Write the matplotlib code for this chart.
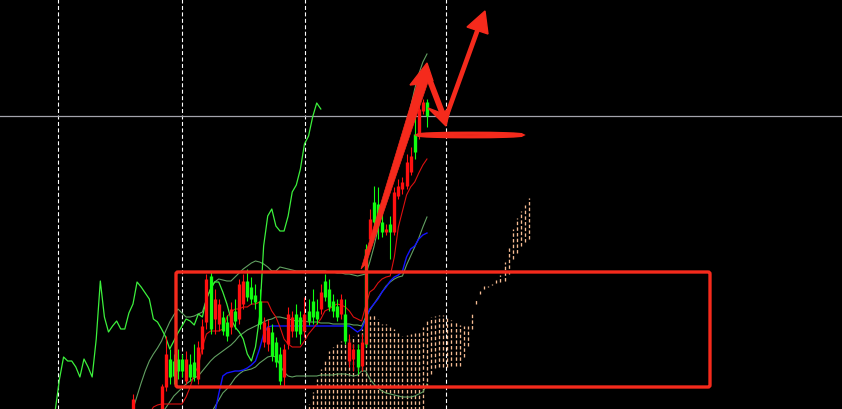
import numpy as np
import matplotlib
matplotlib.use("Agg")
import matplotlib.pyplot as plt
from matplotlib.patches import FancyBboxPatch, Ellipse, Polygon

# price in pips above the bottom of the window, x in bars (bar 0 = first candle)
bars = np.arange(0, 73)
candle_open = [10, -10, -25, -35, -30, -25, -20, 23, 55, 32,
               33, 38, 38, 50, 32, 32, 62, 83, 130, 80,
               110, 105, 78, 73, 100, 88, 125, 128, 112, 110,
               107, 85, 87, 82, 53, 47, 28, 60, 95, 92,
               78, 75, 95, 88, 92, 90, 117, 112, 102, 98,
               92, 110, 68, 67, 60, 42, 67, 65, 190, 187,
               187, 177, 180, 177, 217, 223, 227, 247, 253, 257,
               300, 307, 293]
candle_high = [15, -8, -20, -30, -20, -15, -8, 25, 73, 60,
               55, 60, 55, 58, 55, 65, 68, 90, 135, 137,
               120, 110, 98, 94, 107, 110, 130, 135, 140, 132,
               125, 120, 92, 90, 85, 72, 62, 65, 102, 98,
               105, 98, 112, 110, 120, 110, 125, 135, 130, 115,
               110, 115, 110, 75, 65, 65, 75, 165, 200, 223,
               222, 195, 185, 193, 222, 230, 232, 255, 262, 292,
               305, 310, 310]
candle_low = [-15, -30, -40, -45, -40, -35, -30, -15, 18, 25,
              25, 30, 32, 25, 28, 28, 25, 55, 80, 75,
              75, 78, 74, 68, 75, 80, 85, 100, 108, 105,
              100, 80, 62, 58, 48, 42, 24, 22, 60, 72,
              72, 65, 72, 84, 85, 85, 95, 108, 98, 92,
              88, 90, 65, 42, 38, 35, 38, 62, 160, 180,
              170, 172, 174, 150, 174, 210, 215, 220, 234, 250,
              270, 295, 282]
candle_close = [-10, -25, -35, -30, -25, -20, -15, -5, 22, 50,
                48, 50, 50, 28, 45, 47, 30, 60, 87, 133,
                90, 85, 92, 87, 82, 98, 90, 105, 128, 122,
                114, 108, 67, 65, 77, 67, 55, 32, 65, 78,
                95, 92, 78, 98, 108, 98, 100, 128, 120, 108,
                103, 95, 95, 48, 50, 60, 43, 160, 170, 207,
                205, 187, 177, 185, 177, 213, 220, 223, 237, 275,
                275, 298, 307]

# ichimoku
tenkan_start = 4
tenkan = [-5, 2, 4, 5, 5, 5, 5, 5, 5,
          12, 22, 35, 43, 62, 75, 78, 78, 78, 80,
          92, 97, 100, 100, 102, 102, 105, 105, 107, 107,
          107, 98, 92, 82, 70, 65, 62, 62, 62, 68,
          75, 80, 85, 90, 98, 100, 103, 105, 104, 102,
          98, 92, 90, 88, 103, 117, 120, 126, 130, 132,
          133, 152, 182, 198, 214, 222, 227, 236, 244, 250]
kijun_start = 20
kijun = [-5, 15, 33, 36, 37, 38, 38, 39, 41, 44, 48, 60, 75, 82,
         83, 83, 83, 83, 83, 83, 83, 83, 83, 83,
         83, 83, 83, 83, 83, 83, 83, 83, 83, 83,
         80, 77, 80, 90, 100, 105, 110, 117, 122, 128,
         132, 134, 138, 152, 160, 163, 170, 174, 176]
chikou_start = -20
chikou = [-30, 0, 30, 52, 48, 48, 42, 32, 50, 42, 32, 70, 128, 92, 77, 83, 88, 80, 80,
          96, 105, 127, 122, 116, 110, 90, 87, 80, 72, 60, 68, 76, 83, 90, 88,
          84, 95, 92, 110, 120, 127, 127, 117, 105, 90, 82, 77, 70, 55, 48, 62,
          92, 163, 193, 200, 183, 178, 178, 193, 217, 224, 240, 265, 273, 292,
          306, 300]
span_start = 42
span_top = [-5, 5, 17, 30, 40, 50, 58, 62, 65, 68,
            70, 72, 73, 75, 80, 88, 93, 95, 90, 85,
            85, 82, 80, 76, 73, 74, 75, 76, 77, 82,
            88, 92, 93, 94, 94, 92, 89, 87, 84, 83,
            83, 97, 110, 118, 123, 123, 125, 129, 134, 147,
            161, 180, 191, 198, 204, 211]
span_bottom = [-40, -39, -38, -37, -36, -35, -34, -33, -32, -31,
               -30, -29, -28, -27, -26, -25, -24, -23, -22, -21,
               -20, -19, -18, -17, -16, -14, -12, -10, -8, 0,
               22, 35, 41, 42, 42, 42, 43, 43, 43, 52,
               63, 80, 105, 115, 120, 122, 124, 126, 127, 128,
               135, 150, 156, 163, 167, 170]

# bollinger bands
bb_upper = [0, 13, 26, 38, 48, 55, 61, 68, 78, 87,
            94, 100, 96, 92, 92, 93, 95, 97, 110, 120,
            127, 130, 129, 128, 128, 132, 136, 140, 143, 146,
            148, 147, 145, 142, 138, 138, 142, 141, 140, 139,
            138, 138, 138, 138, 138, 138, 138, 138, 137, 137,
            136, 136, 135, 135, 134, 133, 134, 135, 147, 162,
            180, 195, 210, 225, 240, 255, 270, 285, 302, 320,
            335, 347, 355]
bb_mid_start = 7
bb_mid = [-4, 1, 7,
          13, 17, 21, 25, 28, 31, 33, 38, 43, 48,
          52, 55, 58, 61, 64, 68, 73, 76, 79, 81,
          83, 85, 87, 89, 90, 92, 92, 91, 90, 89,
          88, 88, 88, 87, 87, 87, 86, 86, 86, 85,
          85, 85, 85, 85, 84, 84, 83, 92, 99, 105,
          111, 117, 123, 127, 130, 132, 133, 144, 153, 162,
          171, 182, 192]
bb_low_start = 19
bb_lower = [-5,
            2, 9, 16, 20, 25, 31, 35, 38, 39, 40,
            42, 46, 49, 52, 53, 52, 44, 37, 33, 32,
            33, 33, 33, 33, 33, 33, 34, 34, 34, 34,
            35, 35, 35, 34, 33, 34, 38, 38, 30, 25,
            21, 18, 16, 15, 14, 13, 12, 12, 12, 13,
            15, 17, 25]

separators = [-18.4, 12.0, 42.1, 76.7]
price_level = 293

fig = plt.figure(figsize=(8.42, 4.10), dpi=100, facecolor="black")
ax = fig.add_axes([0, 0, 1, 1])
ax.set_facecolor("black")
ax.set_xlim(-32.57, 173.65)
ax.set_ylim(0, 410)
ax.axis("off")

for s in separators:
    ax.axvline(s, color="white", lw=0.8, ls=(0, (3.6, 2.2)), zorder=1)
ax.axhline(price_level, color="#a4a4ac", lw=0.9, zorder=1)

cx = np.arange(span_start, span_start + len(span_top))
ax.vlines(cx, span_bottom, span_top, colors="#f6bc94", lw=0.95,
          linestyles=(0, (2.6, 1.7)), zorder=2)

bbc = "#62a062"
ax.plot(bars, bb_upper, color=bbc, lw=0.8, zorder=3)
ax.plot(np.arange(bb_mid_start, bb_mid_start + len(bb_mid)), bb_mid, color=bbc, lw=0.8, zorder=3)
ax.plot(np.arange(bb_low_start, bb_low_start + len(bb_lower)), bb_lower, color=bbc, lw=0.8, zorder=3)

ax.plot(np.arange(kijun_start, kijun_start + len(kijun)), kijun, color="#1414ff", lw=1.0, zorder=4)
ax.plot(np.arange(tenkan_start, tenkan_start + len(tenkan)), tenkan, color="#dd1010", lw=0.8, zorder=4)
ax.plot(np.arange(chikou_start, chikou_start + len(chikou)), chikou, color="#3cf03c", lw=0.9, zorder=4)

o = np.array(candle_open)
c = np.array(candle_close)
cols = np.where(c >= o, "#10ff10", "#ff1010")
ax.vlines(bars, candle_low, candle_high, colors=cols, lw=0.8, zorder=5)
top = np.maximum(o, c)
bot = np.minimum(o, c)
top = np.where(top - bot < 1.5, bot + 1.5, top)
ax.vlines(bars, bot, top, colors=cols, lw=2.4, zorder=5)

# hand drawn marks on top of the screenshot (screen pixels)
ov = fig.add_axes([0, 0, 1, 1], facecolor="none")
ov.set_xlim(0, 842)
ov.set_ylim(410, 0)
ov.axis("off")
red = "#f52a1c"
ov.add_patch(FancyBboxPatch((176, 273), 534, 115, boxstyle="round,pad=0,rounding_size=2",
                            fill=False, ec=red, lw=2.4, zorder=10))
ov.plot([366, 366], [345, 250], color=red, lw=2.2, solid_capstyle="butt", zorder=10)
ov.add_patch(Polygon([(361, 270), (366, 265), (429, 80), (420, 75)], closed=True, fc=red, ec=red, lw=0.5, zorder=10))
ov.add_patch(Polygon([(427, 64), (410, 86), (419, 85), (426, 78), (433, 82)], closed=True, fc=red, ec=red, zorder=10))
ov.plot([427, 445], [74, 121], color=red, lw=4.2, solid_capstyle="round", zorder=10)
ov.add_patch(Polygon([(428, 109), (446, 127), (450, 110), (441, 114)], closed=True, fc=red, ec=red, zorder=10))
ov.plot([445, 479], [121, 27], color=red, lw=3.4, solid_capstyle="round", zorder=10)
ov.add_patch(Polygon([(485, 12), (467, 28), (488, 35)], closed=True, fc=red, ec=red, zorder=10))
ov.add_patch(Ellipse((470, 136), 104, 3.5, fill=True, fc="#7a0a05", ec=red, lw=2.4, zorder=10))

fig.savefig("out.png", dpi=100, facecolor="black")
